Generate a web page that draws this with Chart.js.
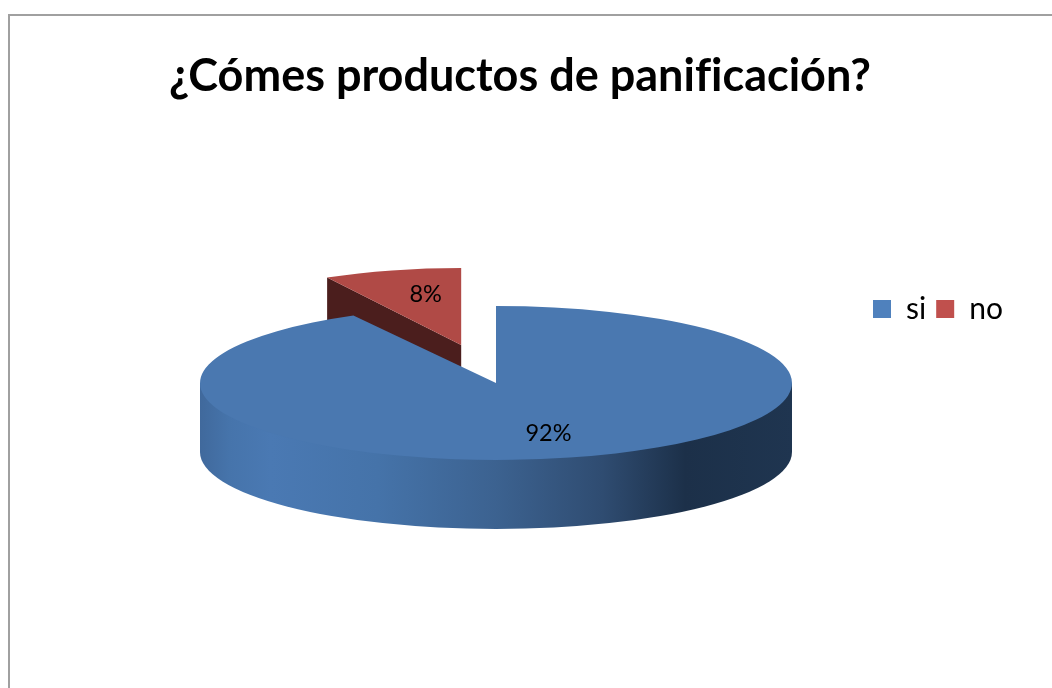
<!DOCTYPE html>
<html>
<head>
<meta charset="utf-8">
<style>
html, body { margin: 0; padding: 0; background: #fff; overflow: hidden; width: 1052px; height: 688px; }
#frame { position: absolute; left: 8px; top: 14px; width: 2000px; height: 2000px; border: 2px solid #a0a0a0; }
canvas { position: absolute; left: 0; top: 0; }
</style>
<script src="https://cdn.jsdelivr.net/npm/chart.js@4/dist/chart.umd.min.js"></script>
</head>
<body>
<div id="frame"></div>
<canvas id="myChart" width="1052" height="688"></canvas>
<script>
const chartTitle = '¿Cómes productos de panificación?';
const categories = ['si', 'no'];
const values = [92, 8];
const sliceColors = ['#4a78b0', '#b04a46'];
const legendColors = ['#4f81bd', '#c0504d'];

const pieRadius = 296;
const squash = 0.26;      // how flat the ellipse is
const depth = 69;         // height of the pie wall in px
const pullOut = 140;      // how far the small slice is pulled out
const pullLift = 1.08;    // it goes a little more back than sideways
const pulledWidth = 0.94; // the far slice looks a bit narrower
const labelNudge = [{ x: 1, y: -2 }, { x: 16, y: 2 }];

// where a slice really sits once its pull out and the squash are applied
function sliceGeom(arc, off) {
    const mid = (arc.startAngle + arc.endAngle) / 2;
    return {
        mid: mid,
        x: arc.x + Math.cos(mid) * off,
        y: arc.y + Math.sin(mid) * off * pullLift * squash,
        r: pieRadius,
        ry: pieRadius * squash
    };
}

const pie3d = {
    id: 'pie3d',
    afterLayout(chart) {
        // title and legend sit where the original has them
        const t = chart.titleBlock, l = chart.legend;
        t.left = 0; t.right = 1040; t.top = 49; t.bottom = 103;
        const h = l.height;
        l.left = 863; l.right = 1040; l.top = 284; l.bottom = 284 + h;
    },
    afterDatasetsUpdate(chart) {
        // the small slice is moved and narrowed when it draws itself
        const arc = chart.getDatasetMeta(0).data[1];
        if (arc.pulled) return;
        const draw = arc.draw;
        arc.draw = function (ctx) {
            const mid = (arc.startAngle + arc.endAngle) / 2;
            ctx.save();
            ctx.translate(arc.x + Math.cos(mid) * pullOut, arc.y + Math.sin(mid) * pullOut * pullLift);
            ctx.scale(pulledWidth, 1);
            ctx.translate(-arc.x, -arc.y);
            draw.call(arc, ctx);
            ctx.restore();
        };
        arc.pulled = true;
    },
    beforeDraw(chart) {
        // keeps the fi in panificación as two letters
        chart.ctx.letterSpacing = '0.001px';
    },
    beforeDatasetsDraw(chart) {
        const ctx = chart.ctx;
        const arcs = chart.getDatasetMeta(0).data;

        // side face of the pulled out slice
        const red = sliceGeom(arcs[1], pullOut);
        const ex = red.x + Math.cos(arcs[1].startAngle) * red.r * pulledWidth;
        const ey = red.y + Math.sin(arcs[1].startAngle) * red.ry;
        ctx.fillStyle = '#4b1e1d';
        ctx.beginPath();
        ctx.moveTo(red.x, red.y);
        ctx.lineTo(ex, ey);
        ctx.lineTo(ex, ey + depth);
        ctx.lineTo(red.x, red.y + depth);
        ctx.closePath();
        ctx.fill();

        // front wall of the big slice, its top edge stays hidden under the top face
        const bx = arcs[0].x, cy = arcs[0].y;
        const ry = pieRadius * squash;
        const grad = ctx.createLinearGradient(bx - pieRadius, 0, bx + pieRadius, 0);
        grad.addColorStop(0, '#40699c');
        grad.addColorStop(0.05, '#4674ab');
        grad.addColorStop(0.12, '#4a79b3');
        grad.addColorStop(0.3, '#4573a9');
        grad.addColorStop(0.5, '#3c6290');
        grad.addColorStop(0.68, '#2f4c71');
        grad.addColorStop(0.82, '#1c3049');
        grad.addColorStop(1, '#1f3550');
        ctx.fillStyle = grad;
        ctx.beginPath();
        ctx.moveTo(bx + pieRadius, cy);
        ctx.lineTo(bx - pieRadius, cy);
        ctx.lineTo(bx - pieRadius, cy + depth);
        ctx.ellipse(bx, cy + depth, pieRadius, ry, 0, Math.PI, 0, true);
        ctx.closePath();
        ctx.fill();

        // top faces are plain pie arcs drawn into a flattened context
        ctx.save();
        ctx.translate(bx, cy);
        ctx.scale(1, squash);
        ctx.translate(-bx, -cy);
    },
    afterDatasetsDraw(chart) {
        const ctx = chart.ctx;
        ctx.restore();
        const arcs = chart.getDatasetMeta(0).data;
        ctx.save();
        ctx.fillStyle = '#000';
        ctx.font = '23.5px Lato';
        ctx.textAlign = 'center';
        ctx.textBaseline = 'middle';
        arcs.forEach((arc, i) => {
            const g = sliceGeom(arc, i === 1 ? pullOut : 0);
            const lx = g.x + Math.cos(g.mid) * g.r * 0.7 + labelNudge[i].x;
            const ly = g.y + Math.sin(g.mid) * g.ry * 0.7 + labelNudge[i].y;
            ctx.fillText(values[i] + '%', lx, ly);
        });
        ctx.restore();
    }
};

var ctx = document.getElementById('myChart').getContext('2d');
new Chart(ctx, {
    type: 'pie',
    plugins: [pie3d],
    data: {
        labels: categories,
        datasets: [{
            data: values,
            backgroundColor: sliceColors,
            borderWidth: 0,
            clip: false
        }]
    },
    options: {
        responsive: false,
        animation: false,
        radius: pieRadius,
        layout: { padding: { right: 60, bottom: 26 } },
        plugins: {
            tooltip: { enabled: false },
            title: {
                display: true,
                text: chartTitle,
                color: '#000',
                padding: 0,
                font: { family: 'Lato', size: 45, weight: 'bold' }
            },
            legend: {
                display: true,
                position: 'top',
                align: 'start',
                labels: {
                    boxWidth: 18,
                    boxHeight: 18,
                    padding: 10,
                    color: '#000',
                    font: { family: 'Lato', size: 30 },
                    generateLabels(chart) {
                        return categories.map((c, i) => ({
                            text: c,
                            fillStyle: legendColors[i],
                            strokeStyle: legendColors[i],
                            lineWidth: 0,
                            index: i
                        }));
                    }
                }
            }
        }
    }
});
</script>
</body>
</html>
